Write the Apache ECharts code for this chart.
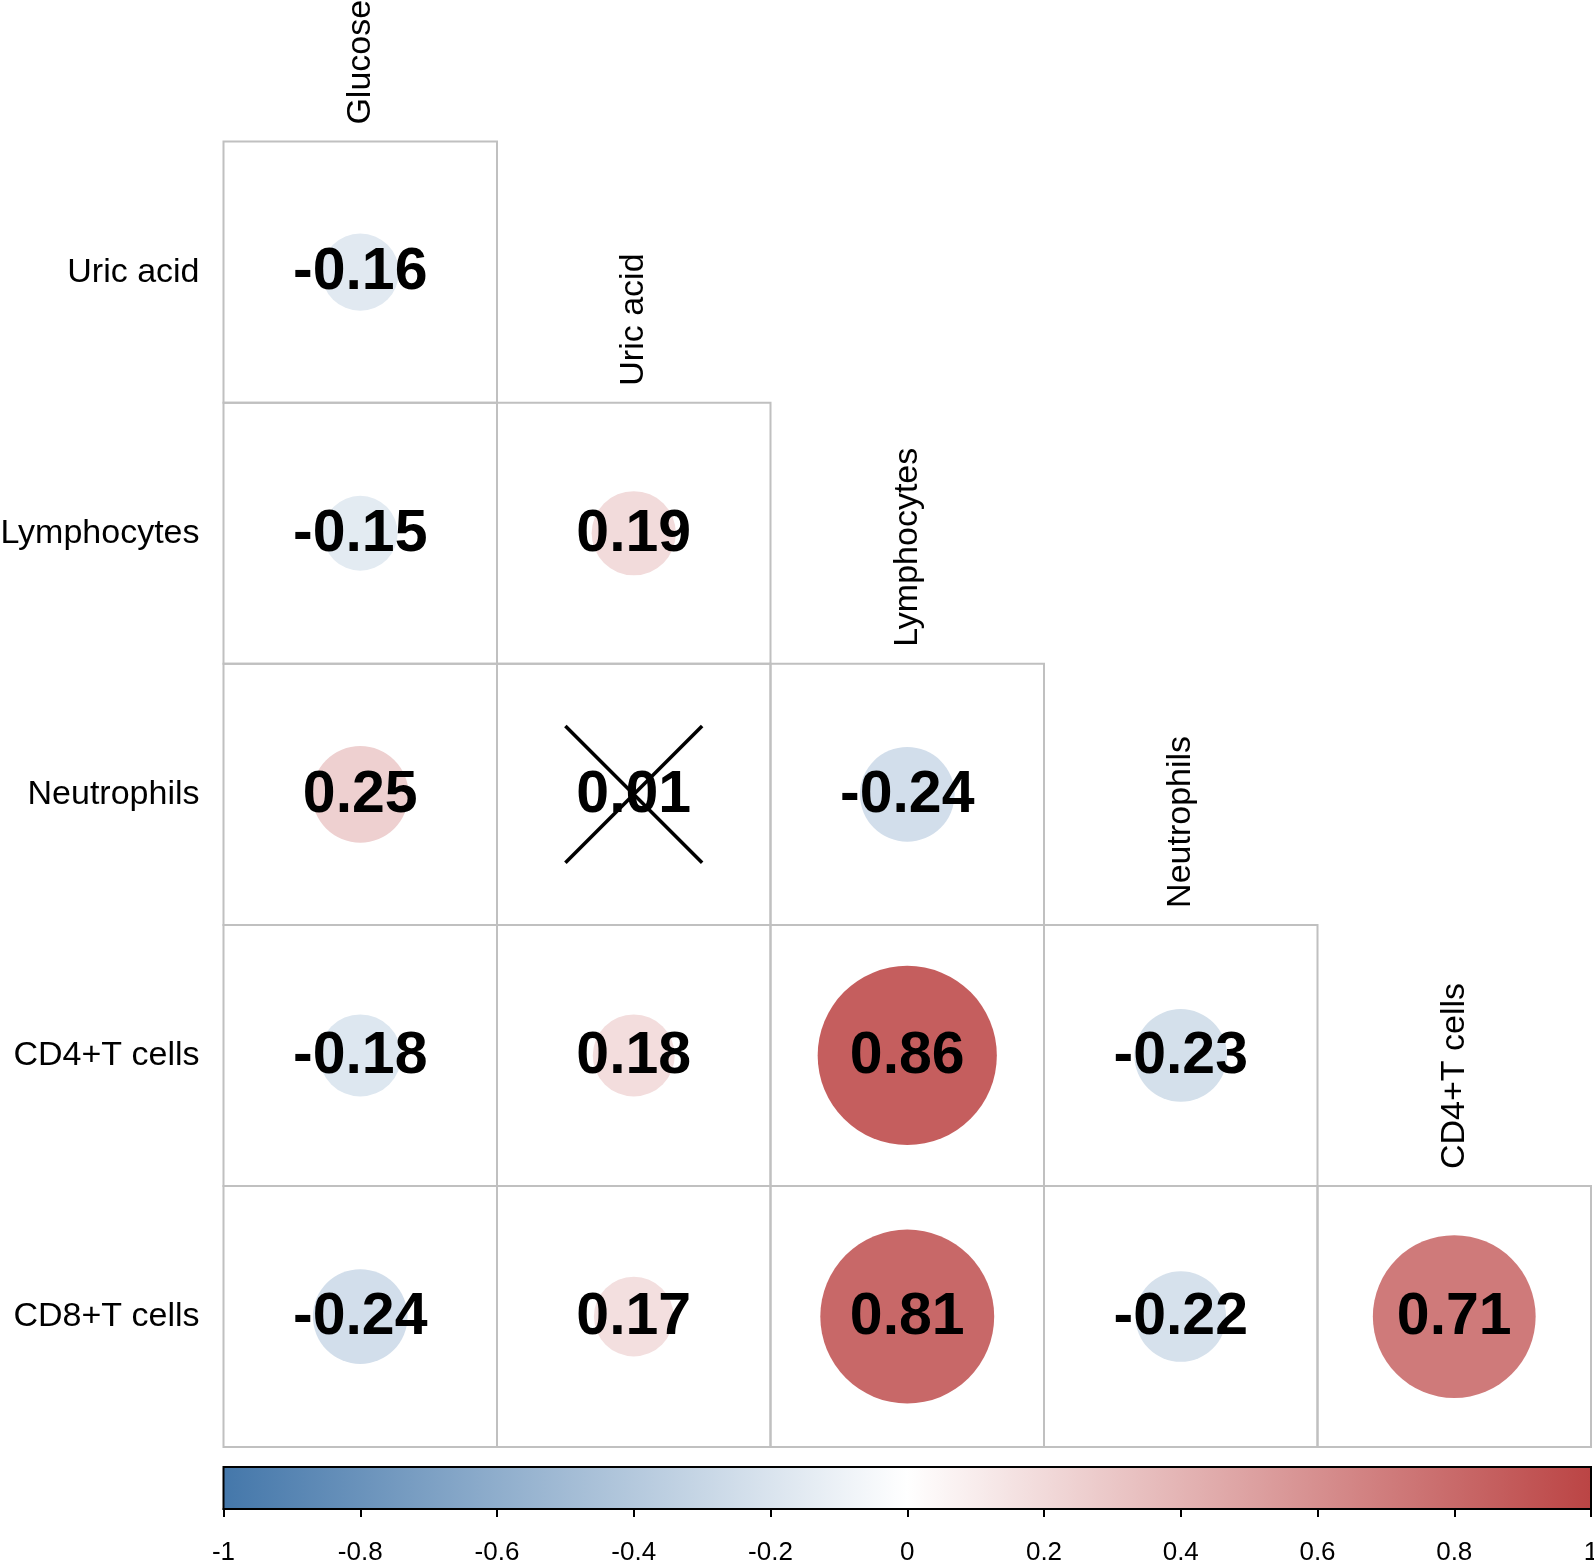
<!DOCTYPE html>
<html>
<head>
<meta charset="utf-8">
<title>Correlation matrix</title>
<script src="https://cdn.jsdelivr.net/npm/echarts@6/dist/echarts.min.js"></script>
<style>
  html, body { margin: 0; padding: 0; background: #fff; }
  #chart { width: 1594px; height: 1560px; }
</style>
</head>
<body>
<div id="chart"></div>
<script>
// row / column variables of the lower triangle
const rowNames = ['Uric acid', 'Lymphocytes', 'Neutrophils', 'CD4+T cells', 'CD8+T cells']
const colNames = ['Glucose', 'Uric acid', 'Lymphocytes', 'Neutrophils', 'CD4+T cells']
// correlation coefficients, one list per row (lower triangle)
const corrUricAcid = [-0.16]
const corrLymphocytes = [-0.15, 0.19]
const corrNeutrophils = [0.25, 0.01, -0.24]
const corrCD4 = [-0.18, 0.18, 0.86, -0.23]
const corrCD8 = [-0.24, 0.17, 0.81, -0.22, 0.71]
const corrRows = [corrUricAcid, corrLymphocytes, corrNeutrophils, corrCD4, corrCD8]
// cells that are not significant (crossed out): [row, col]
const insignificant = [[2, 1]]
// colour bar range and palette
const barMin = -1
const barMax = 1
const barStep = 0.2
const barColors = ['#4477AA', '#FFFFFF', '#BB4444']

const FONT = "'Liberation Sans', Arial, Helvetica, sans-serif"

const cells = []
corrRows.forEach((vals, r) => {
  vals.forEach((v, c) => {
    const crossed = insignificant.some((p) => p[0] === r && p[1] === c) ? 1 : 0
    cells.push([c, r, v, crossed])
  })
})

function renderCell(params, api) {
  const p = api.coord([api.value(0), api.value(1)])
  const s = api.size([1, 1])
  const v = api.value(2)
  const rad = 0.37 * s[1] * Math.sqrt(Math.abs(v))
  const children = [
    {
      type: 'rect',
      shape: { x: p[0] - s[0] / 2, y: p[1] - s[1] / 2, width: s[0], height: s[1] },
      style: { fill: null, stroke: '#c0c0c0', lineWidth: 2 }
    },
    {
      type: 'circle',
      shape: { cx: p[0], cy: p[1], r: rad },
      style: { fill: api.visual('color') }
    },
    {
      type: 'text',
      x: p[0],
      y: p[1] + 1,
      style: {
        text: v.toFixed(2),
        fontFamily: FONT,
        fontWeight: 'bold',
        fontSize: 59,
        fill: '#000',
        align: 'center',
        verticalAlign: 'middle'
      }
    }
  ]
  if (api.value(3)) {
    const h = 0.25 * s[0]
    const lineStyle = { stroke: '#000', lineWidth: 3.5 }
    children.push(
      { type: 'line', shape: { x1: p[0] - h, y1: p[1] - h, x2: p[0] + h, y2: p[1] + h }, style: lineStyle },
      { type: 'line', shape: { x1: p[0] - h, y1: p[1] + h, x2: p[0] + h, y2: p[1] - h }, style: lineStyle }
    )
  }
  return { type: 'group', children: children }
}

// column names sit vertically above the top cell of each column
function renderColLabel(params, api) {
  const i = api.value(0)
  const p = api.coord([i, i])
  const s = api.size([1, 1])
  return {
    type: 'text',
    x: p[0],
    y: p[1] - s[1] / 2 - 17,
    rotation: Math.PI / 2,
    style: {
      text: colNames[i],
      fontFamily: FONT,
      fontSize: 34,
      fill: '#000',
      align: 'left',
      verticalAlign: 'middle'
    }
  }
}

// colour key: one gradient rect spanning the value axis
function renderColorBar(params, api) {
  const p0 = api.coord([api.value(0), 0])
  const p1 = api.coord([api.value(1), 1])
  const stops = barColors.map((c, i) => ({ offset: i / (barColors.length - 1), color: c }))
  return {
    type: 'rect',
    shape: { x: p0[0], y: p1[1], width: p1[0] - p0[0], height: p0[1] - p1[1] },
    style: {
      fill: new echarts.graphic.LinearGradient(0, 0, 1, 0, stops),
      stroke: '#000',
      lineWidth: 2
    }
  }
}

const chart = echarts.init(document.getElementById('chart'))
chart.setOption({
  backgroundColor: '#fff',
  animation: false,
  grid: [
    { left: 223.5, top: 141.6, width: 1367.5, height: 1305.5, outerBoundsMode: 'none', containLabel: false },
    { left: 223.5, top: 1467, width: 1367.5, height: 42, outerBoundsMode: 'none', containLabel: false }
  ],
  xAxis: [
    {
      gridIndex: 0,
      type: 'category',
      data: colNames,
      axisLine: { show: false },
      axisTick: { show: false },
      axisLabel: { show: false },
      splitLine: { show: false }
    },
    {
      gridIndex: 1,
      type: 'value',
      min: barMin,
      max: barMax,
      interval: barStep,
      position: 'bottom',
      axisLine: { show: true, lineStyle: { color: '#000', width: 2 } },
      axisTick: { show: true, inside: false, length: 8, lineStyle: { color: '#000', width: 2 } },
      axisLabel: { fontFamily: FONT, fontSize: 26, color: '#000', margin: 31 },
      splitLine: { show: false },
      z: 10
    }
  ],
  yAxis: [
    {
      gridIndex: 0,
      type: 'category',
      data: rowNames,
      inverse: true,
      axisLine: { show: false },
      axisTick: { show: false },
      axisLabel: { fontFamily: FONT, fontSize: 34, color: '#000', margin: 24 },
      splitLine: { show: false }
    },
    { gridIndex: 1, type: 'value', show: false, min: 0, max: 1 }
  ],
  visualMap: {
    type: 'continuous',
    show: false,
    min: barMin,
    max: barMax,
    dimension: 2,
    seriesIndex: 0,
    inRange: { color: barColors }
  },
  series: [
    {
      type: 'custom',
      xAxisIndex: 0,
      yAxisIndex: 0,
      renderItem: renderCell,
      data: cells,
      encode: { x: 0, y: 1 },
      z: 2
    },
    {
      type: 'custom',
      xAxisIndex: 0,
      yAxisIndex: 0,
      renderItem: renderColLabel,
      data: colNames.map((n, i) => [i, i]),
      encode: { x: 0, y: 1 },
      z: 3
    },
    {
      type: 'custom',
      xAxisIndex: 1,
      yAxisIndex: 1,
      renderItem: renderColorBar,
      data: [[barMin, barMax]],
      encode: { x: [0, 1] },
      z: 1
    }
  ]
})
</script>
</body>
</html>
